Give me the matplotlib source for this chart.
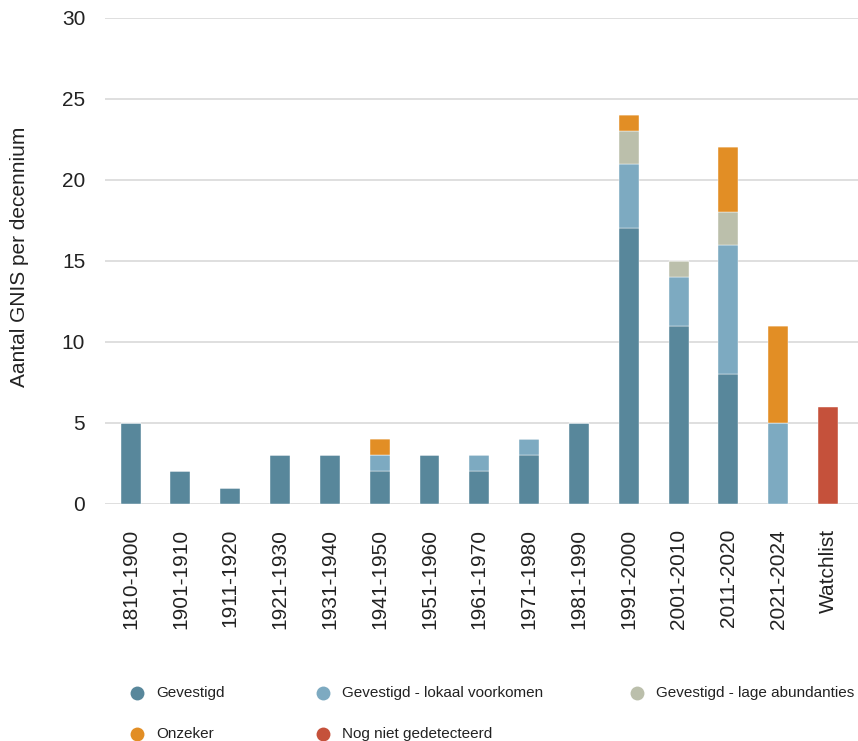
import numpy as np
import matplotlib.pyplot as plt
from matplotlib.lines import Line2D

plt.rcParams['font.family'] = ['Liberation Sans', 'DejaVu Sans']

# Categorieën (decennia)
periods = ['1810-1900', '1901-1910', '1911-1920', '1921-1930', '1931-1940',
           '1941-1950', '1951-1960', '1961-1970', '1971-1980', '1981-1990',
           '1991-2000', '2001-2010', '2011-2020', '2021-2024', 'Watchlist']

# Aantallen per status
gevestigd = [5, 2, 1, 3, 3, 2, 3, 2, 3, 5, 17, 11, 8, 0, 0]
lokaal = [0, 0, 0, 0, 0, 1, 0, 1, 1, 0, 4, 3, 8, 5, 0]
lage_abund = [0, 0, 0, 0, 0, 0, 0, 0, 0, 0, 2, 1, 2, 0, 0]
onzeker = [0, 0, 0, 0, 0, 1, 0, 0, 0, 0, 1, 0, 4, 6, 0]
niet_gedetecteerd = [0, 0, 0, 0, 0, 0, 0, 0, 0, 0, 0, 0, 0, 0, 6]

series = [
    ('Gevestigd', gevestigd, '#58879b'),
    ('Gevestigd - lokaal voorkomen', lokaal, '#7daac1'),
    ('Gevestigd - lage abundanties', lage_abund, '#bbbfab'),
    ('Onzeker', onzeker, '#e28e25'),
    ('Nog niet gedetecteerd', niet_gedetecteerd, '#c5513b'),
]

W, H = 858, 741
fig = plt.figure(figsize=(W / 100, H / 100), dpi=100)
ax = fig.add_axes([0.122, 0.32, 0.878, 0.656])

x = np.arange(len(periods))
bottom = np.zeros(len(periods))
for name, vals, col in series:
    vals = np.array(vals, dtype=float)
    ax.bar(x, vals, width=0.4, bottom=bottom, color=col,
           edgecolor='#ffffff', linewidth=0.3, zorder=3)
    bottom += vals

ax.set_ylim(0, 30)
ax.set_yticks(range(0, 31, 5))
ax.set_xlim(-0.52, 14.6)
ax.set_xticks(x)
ax.set_xticklabels(periods, rotation=90, fontsize=15, color='#222222')
ax.tick_params(axis='y', labelsize=15, colors='#222222', length=0, pad=14)
ax.tick_params(axis='x', length=0, pad=18)
ax.grid(axis='y', color='#dcdcdc', linewidth=1.3, zorder=0)
for s in ax.spines.values():
    s.set_visible(False)

fig.text(20 / W, 1 - 257 / H, 'Aantal GNIS per decennium', rotation=90,
         fontsize=15, color='#222222', ha='center', va='center')

# legende, handmatig geplaatst in twee rijen
leg_pos = [(137, 693), (323, 693), (637, 693), (137, 734), (323, 734)]
for (name, vals, col), (px, py) in zip(series, leg_pos):
    fig.add_artist(Line2D([px / W], [1 - py / H], marker='o', linestyle='none',
                          markersize=10, markerfacecolor=col, markeredgecolor='none',
                          transform=fig.transFigure))
    fig.text((px + 19) / W, 1 - py / H, name, fontsize=11, color='#222222',
             ha='left', va='center')

fig.savefig('out.png', dpi=100)
